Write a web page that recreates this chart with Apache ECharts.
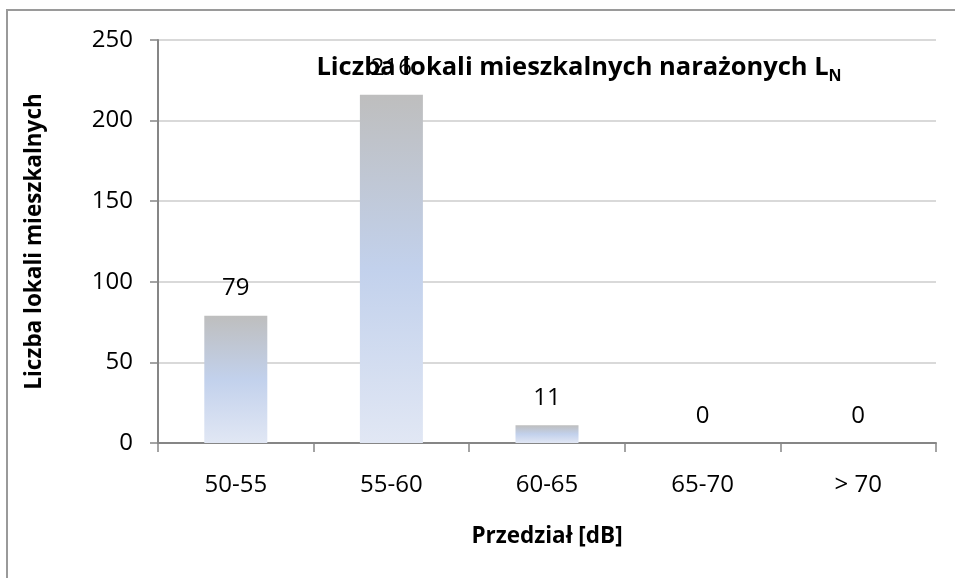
<!DOCTYPE html>
<html>
<head>
<meta charset="utf-8">
<script src="https://cdn.jsdelivr.net/npm/echarts@6/dist/echarts.min.js"></script>
<style>html,body{margin:0;padding:0;background:#fff}#c{width:955px;height:578px}</style>
</head>
<body>
<div id="c"></div>
<script>
const categories = ['50-55', '55-60', '60-65', '65-70', '> 70'];
const values = [79, 216, 11, 0, 0];
const yTicks = [0, 50, 100, 150, 200, 250];

const chart = echarts.init(document.getElementById('c'));
const font = '"Open Sans", "Noto Sans", "DejaVu Sans", sans-serif';
chart.setOption({
  animation: false,
  backgroundColor: '#fff',
  textStyle: { fontFamily: font },
  graphic: [
    { type: 'polyline', shape: { points: [[7, 578], [7, 10], [955, 10]] }, style: { stroke: '#9a9a9a', lineWidth: 2, fill: null }, z: 0 }
  ],
  title: {
    text: '{t|Liczba lokali mieszkalnych narażonych L}{s|N}',
    left: 574, top: 47, textAlign: 'center',
    textStyle: {
      rich: {
        t: { fontSize: 25.5, fontWeight: 'bold', color: '#000', fontFamily: font },
        s: { fontSize: 16, fontWeight: 'bold', color: '#000', fontFamily: font, verticalAlign: 'bottom', padding: [16, 0, 0, 0] }
      }
    },
    z: 10
  },
  grid: { left: 158, right: 19, top: 40, bottom: 135 },
  xAxis: {
    type: 'category',
    data: categories,
    name: 'Przedział [dB]',
    nameLocation: 'middle',
    nameGap: 82,
    nameTextStyle: { fontSize: 22.5, fontWeight: 'bold', color: '#000' },
    axisLine: { lineStyle: { color: '#868686', width: 2 } },
    axisTick: { show: true, length: 9, lineStyle: { color: '#868686', width: 1.5 } },
    axisLabel: { fontSize: 24, color: '#000', margin: 30 }
  },
  yAxis: {
    type: 'value',
    min: yTicks[0], max: yTicks[yTicks.length - 1], interval: 50,
    name: 'Liczba lokali mieszkalnych',
    nameLocation: 'middle',
    nameGap: 112,
    nameTextStyle: { fontSize: 22.5, fontWeight: 'bold', color: '#000' },
    axisLine: { show: true, lineStyle: { color: '#868686', width: 2 } },
    axisTick: { show: true, length: 8, inside: false, lineStyle: { color: '#868686', width: 1.5 } },
    axisLabel: { fontSize: 24, color: '#000', margin: 25 },
    splitLine: { lineStyle: { color: '#d9d9d9', width: 2 } }
  },
  series: [{
    type: 'bar',
    data: values,
    barWidth: 63,
    itemStyle: {
      color: new echarts.graphic.LinearGradient(0, 0, 0, 1, [
        { offset: 0, color: '#bebebe' },
        { offset: 0.5, color: '#c2d1ec' },
        { offset: 1, color: '#e1e7f4' }
      ])
    },
    label: { show: true, position: 'top', distance: 15, fontSize: 24, color: '#000' },
    z: 2
  }]
});
</script>
</body>
</html>
